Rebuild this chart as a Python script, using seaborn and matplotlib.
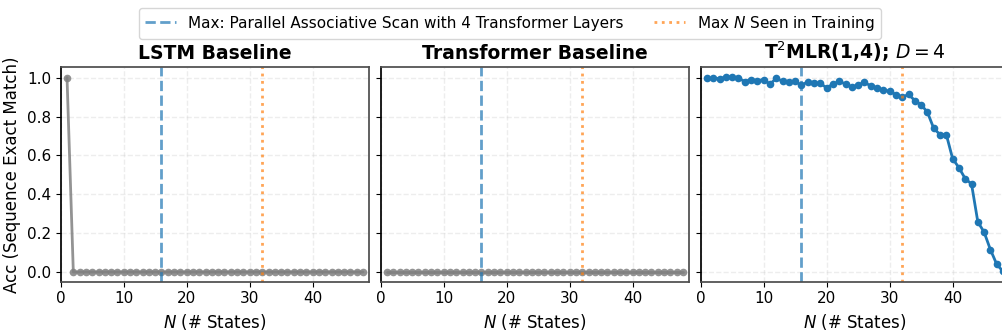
import numpy as np
import pandas as pd
import matplotlib
matplotlib.use("Agg")
import matplotlib.pyplot as plt
import seaborn as sns

# ---- data ----
n_states = list(range(1, 49))
lstm_acc = [1.0] + [0.0] * 47
transformer_acc = [0.0] * 48
t2mlr_acc = [0.997, 0.997, 0.995, 1.002, 1.002, 0.997, 0.980, 0.990, 0.985, 0.990,
             0.966, 0.997, 0.981, 0.976, 0.981, 0.961, 0.979, 0.972, 0.971, 0.947,
             0.967, 0.981, 0.967, 0.952, 0.962, 0.976, 0.957, 0.948, 0.936, 0.930,
             0.913, 0.899, 0.914, 0.882, 0.861, 0.822, 0.739, 0.707, 0.707, 0.583,
             0.537, 0.480, 0.453, 0.258, 0.205, 0.115, 0.040, 0.003]
titles = ["LSTM Baseline", "Transformer Baseline", "T$^2$MLR(1,4); $D = 4$"]
max_scan_n = 16
max_train_n = 32
legend_labels = ["Max: Parallel Associative Scan with 4 Transformer Layers",
                 "Max $N$ Seen in Training"]

sns.set_theme(style="ticks")
plt.rcParams["font.family"] = ["DejaVu Sans"]
plt.rcParams["text.color"] = "black"
plt.rcParams["axes.labelcolor"] = "black"
plt.rcParams["xtick.color"] = "black"
plt.rcParams["ytick.color"] = "black"
plt.rcParams["xtick.labelsize"] = 11
plt.rcParams["ytick.labelsize"] = 11
plt.rcParams["xtick.major.size"] = 3.5
plt.rcParams["ytick.major.size"] = 3.5
plt.rcParams["xtick.major.width"] = 0.8
plt.rcParams["ytick.major.width"] = 0.8

fig = plt.figure(figsize=(10.02, 3.35), dpi=100)
bottom = 0.159
height = 0.640
width = 0.308
lefts = [0.0606, 0.3799, 0.6993]
axes = []
for i, l in enumerate(lefts):
    if i == 0:
        ax = fig.add_axes([l, bottom, width, height])
    else:
        ax = fig.add_axes([l, bottom, width, height], sharey=axes[0])
    axes.append(ax)

series = [(lstm_acc, "gray", 0.85), (transformer_acc, "gray", 0.85), (t2mlr_acc, "tab:blue", 1.0)]
for ax, (vals, col, a), title in zip(axes, series, titles):
    df = pd.DataFrame({"N": n_states, "acc": vals})
    sns.lineplot(data=df, x="N", y="acc", ax=ax, color=col, marker="o",
                 markersize=5.5, linewidth=2, markeredgewidth=0, alpha=a)
    ax.axvline(max_scan_n, color="tab:blue", linestyle="--", linewidth=2, alpha=0.7,
               label=legend_labels[0])
    ax.axvline(max_train_n, color="tab:orange", linestyle=":", linewidth=2, alpha=0.7,
               label=legend_labels[1])
    ax.set_xlim(0, 49)
    ax.grid(True, linestyle="--", alpha=0.35)
    ax.set_title(title, fontsize=13.5, fontweight="bold", color="black")
    ax.set_xlabel("$N$ (# States)", fontsize=12)
    ax.set_ylabel("")
    for s in ["top", "right", "bottom"]:
        ax.spines[s].set_color("0.3")
    ax.spines["left"].set_color("black")
    ax.set_xticks([0, 10, 20, 30, 40])

axes[0].set_ylim(-0.05, 1.053)
axes[0].set_yticks([0.0, 0.2, 0.4, 0.6, 0.8, 1.0])
axes[0].set_ylabel("Acc (Sequence Exact Match)", fontsize=12)
for ax in axes[1:]:
    ax.tick_params(labelleft=False)

handles, labels = axes[0].get_legend_handles_labels()
fig.legend(handles, labels, loc="upper center", bbox_to_anchor=(0.509, 1.0), ncol=2,
           fontsize=11, frameon=True)

fig.savefig("out.png", dpi=100)
